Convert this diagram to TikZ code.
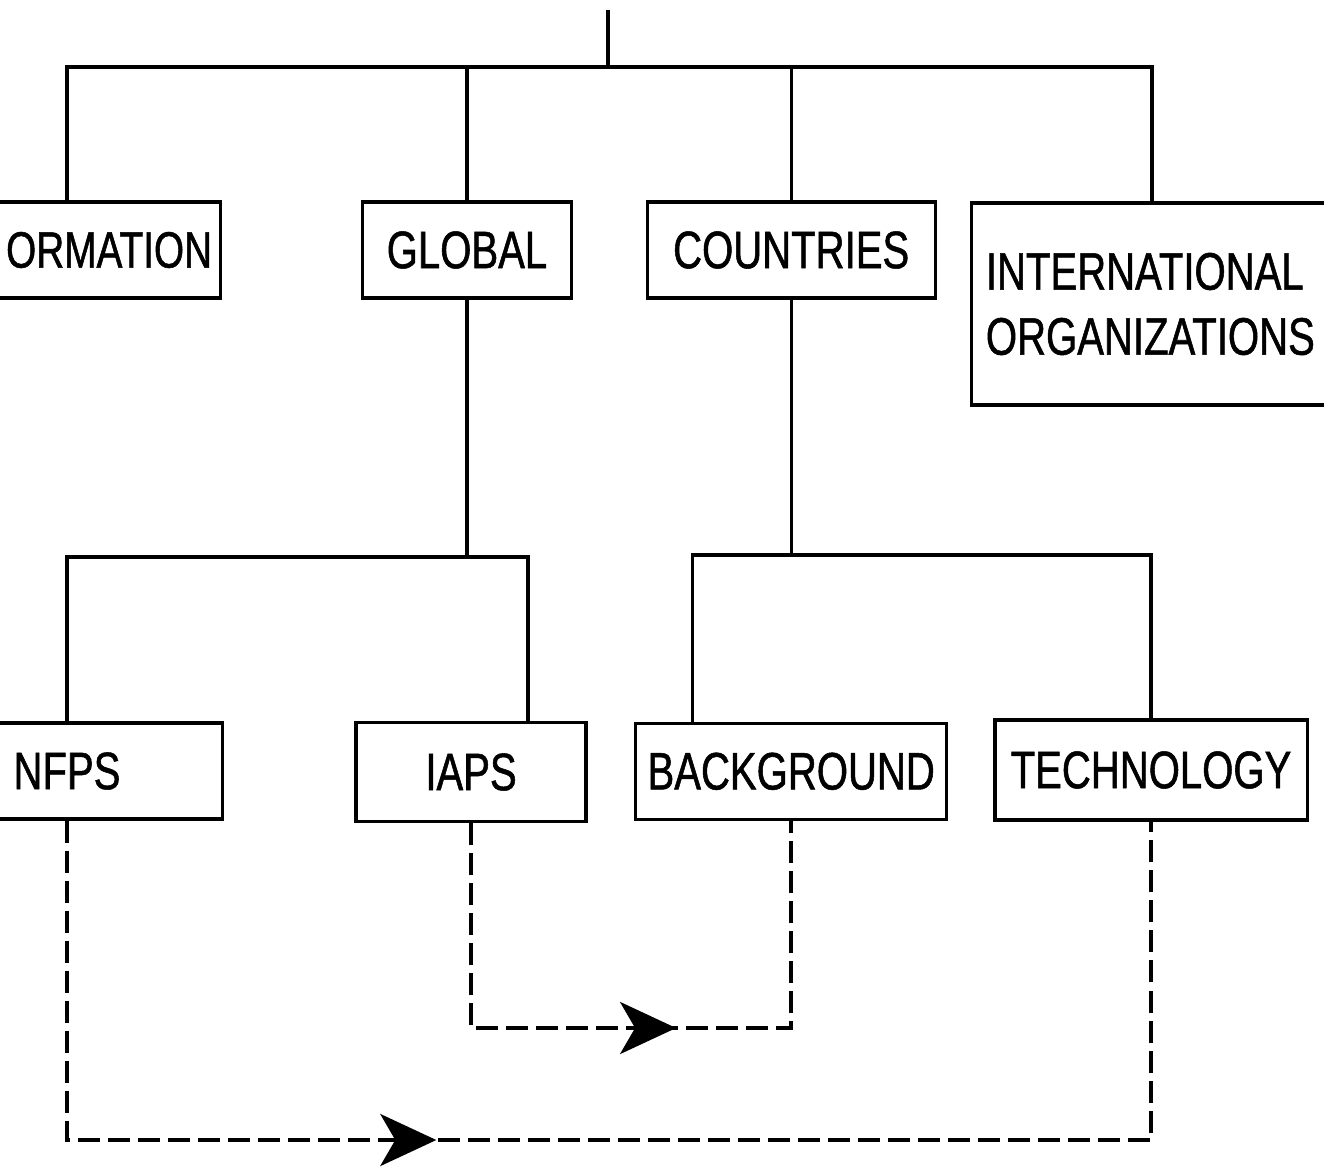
\documentclass[tikz,border=0pt]{standalone}
\usepackage{fontspec}
\setmainfont[FakeStretch=0.76, FakeBold=1]{Liberation Sans}
\usetikzlibrary{positioning, arrows.meta, decorations.markings}

\begin{document}
\begin{tikzpicture}[x=0.01cm, y=-0.01cm, on grid, line width=0.9pt,
  box/.style={draw, minimum height=0.96cm, inner sep=0.1cm, font=\fontsize{15}{18.5}\selectfont},
  flow/.style={line width=1.1pt, dash pattern=on 0.22cm off 0.08cm},
  flowarrow/.style={decoration={markings, mark=at position #1 with {\arrow{Stealth[length=0.56cm, width=0.52cm, inset=0.15cm]}}}, postaction={decorate}}]
  \useasboundingbox (0,0) rectangle (1324,1166);
  \clip (0,0) rectangle (1324,1166);

  \node[box, text width=2.9cm, align=right, inner xsep=0.08cm, font=\fontsize{14.5}{18}\selectfont] (formation) at (67,250) {ORMATION};
  \node[box, minimum width=2.09cm] (global) at (467,250) {GLOBAL};
  \node[box, minimum width=2.88cm] (countries) [right=3.24cm of global] {COUNTRIES};
  \node[box, minimum height=2.02cm, text width=3.32cm, align=left, inner xsep=0.14cm] (intl) at (1152,304) {INTERNATIONAL\\ORGANIZATIONS};
  \node[box, minimum width=3.1cm] (nfps) at (67,771) {NFPS};
  \node[box, minimum width=2.3cm, minimum height=0.99cm] (iaps) at (471,772) {IAPS};
  \node[box, minimum width=3.11cm] (background) [below=5.21cm of countries] {BACKGROUND};
  \node[box, minimum width=3.12cm, minimum height=1cm] (technology) at (1151,770) {TECHNOLOGY};

  \coordinate (root) at (608,10);
  \coordinate (bus) at (608,67);
  \coordinate (lbus) at (global |- 0,557);
  \coordinate (rbus) at (countries |- 0,555);

  % tree
  \draw (root) -- (bus);
  \draw (formation) |- (bus) -| (intl);
  \draw (global) -- (global |- bus);
  \draw (countries) -- (countries |- bus);
  \draw (global) -- (lbus);
  \draw (nfps) |- (lbus) -| ([xshift=0.57cm]iaps.north);
  \draw (countries) -- (rbus);
  \draw ([xshift=-0.99cm]background.north) |- (rbus) -| (technology);

  % dashed flows
  \draw[flow, flowarrow=0.56] (iaps) -- (iaps |- 0,1028) -| (background);
  \draw[flow, flowarrow=0.40] (nfps) -- (nfps |- 0,1140) -| (technology);
\end{tikzpicture}
\end{document}
